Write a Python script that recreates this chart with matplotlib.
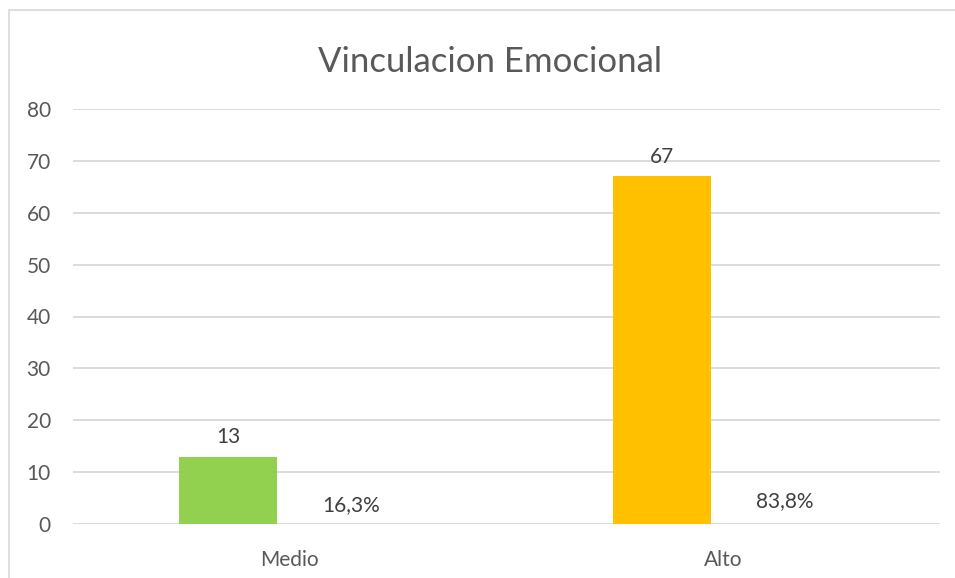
import matplotlib.pyplot as plt
from matplotlib.patches import Rectangle

plt.rcParams['font.family'] = ['Lato', 'DejaVu Sans']

categorias = ['Medio', 'Alto']
frecuencia = [13, 67]
porcentaje = [0.1625, 0.8375]
etiquetas_pct = ['16,3%', '83,8%']

titulo = 'Vinculacion Emocional'
y_ticks = [0, 10, 20, 30, 40, 50, 60, 70, 80]

W, H = 955, 578
fig = plt.figure(figsize=(W / 100, H / 100), dpi=100)
# marco del grafico (estilo Excel)
fig.patches.append(Rectangle((9 / W, -0.1), 1.2, 1 - 10 / H + 0.1, transform=fig.transFigure,
                             facecolor='white', edgecolor='#D9D9D9', linewidth=1.2, zorder=-1))

ax = fig.add_axes([73 / W, 1 - 524 / H, (940 - 73) / W, (524 - 109) / H])
ax.set_facecolor('none')

x = range(len(categorias))
ancho = 0.226
off = 0.142
colores = ['#92D050', '#FFC000']
b1 = ax.bar([i - off for i in x], frecuencia, ancho, color=colores, zorder=3)
# serie de porcentajes: barras casi nulas, solo se ve la etiqueta
b2 = ax.bar([i + off for i in x], porcentaje, ancho, color='none', zorder=3)

for r, v in zip(b1, frecuencia):
    ax.annotate(str(v), (r.get_x() + r.get_width() / 2, r.get_height()), xytext=(0, 7),
                textcoords='offset points', ha='center', va='bottom', fontsize=15, color='#404040')
for r, t in zip(b2, etiquetas_pct):
    ax.annotate(t, (r.get_x() + r.get_width() / 2, r.get_height()), xytext=(0, 6),
                textcoords='offset points', ha='center', va='bottom', fontsize=15, color='#404040')

ax.set_xlim(-0.5, 1.5)
ax.set_ylim(0, 80)
ax.set_yticks(y_ticks)
ax.set_xticks(list(x))
ax.set_xticklabels(categorias)
ax.grid(axis='y', color='#D9D9D9', linewidth=1.3, zorder=0)
for s in ax.spines.values():
    s.set_visible(False)
ax.tick_params(axis='both', length=0, labelsize=15, labelcolor='#595959')
ax.tick_params(axis='y', pad=16)
ax.tick_params(axis='x', pad=19)

fig.text(490 / W, 1 - 62 / H, titulo, ha='center', va='center', fontsize=25, color='#595959')

fig.savefig('out.png', dpi=100)
